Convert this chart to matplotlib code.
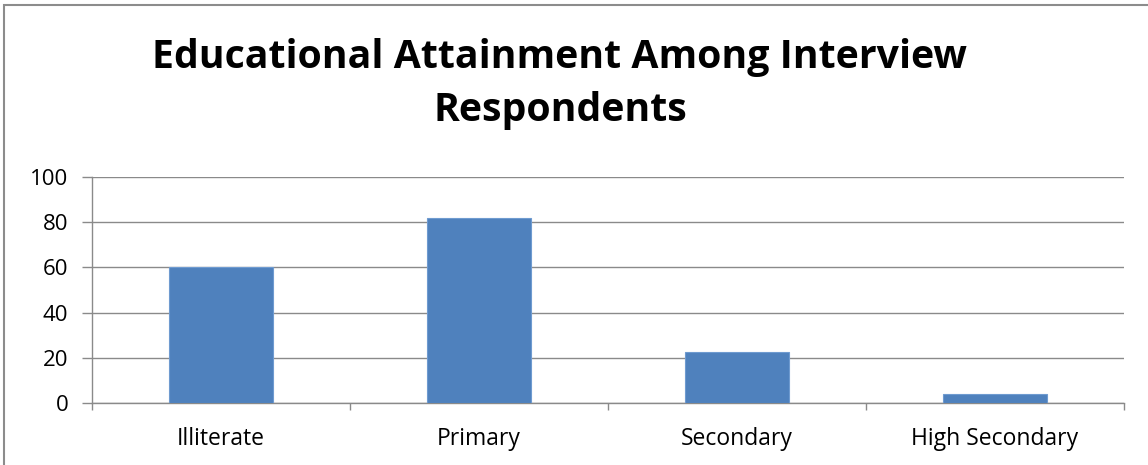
import matplotlib
matplotlib.use("Agg")
import matplotlib.pyplot as plt
from matplotlib.patches import Rectangle
from matplotlib.ticker import FixedLocator

categories = ["Illiterate", "Primary", "Secondary", "High Secondary"]
values = [60, 82, 22.5, 4]
yticks = [0, 20, 40, 60, 80, 100]
title = "Educational Attainment Among Interview\nRespondents"

W, H = 1148, 465
fig = plt.figure(figsize=(W / 100, H / 100), dpi=100)
fig.patch.set_facecolor("white")

# outer chart border (Excel-like)
fig.patches.append(Rectangle((4 / W, -0.1), 1.2, (H - 5) / H + 0.1, transform=fig.transFigure,
                             fill=False, edgecolor="#8c8c8c", linewidth=1.5))

ax = fig.add_axes([92 / W, 1 - 403 / H, (1124 - 92) / W, (403 - 177) / H])
x = list(range(len(categories)))
ax.bar(x, values, width=0.4, color="#4F81BD", edgecolor="#6f9bd0", linewidth=0.8, zorder=3)

ax.set_xlim(-0.5, len(categories) - 0.5)
ax.set_ylim(0, 100)
ax.set_yticks(yticks)
ax.yaxis.grid(True, color="#8a8a8a", linewidth=1.0, zorder=0)
ax.set_axisbelow(True)

ax.set_xticks(x)
ax.set_xticklabels(categories, fontsize=16.5, family="Open Sans")
ax.xaxis.set_minor_locator(FixedLocator([i - 0.5 for i in range(len(categories) + 1)]))
ax.tick_params(axis="x", which="major", length=0, pad=17)
ax.tick_params(axis="x", which="minor", length=5, color="#8a8a8a", width=1.0)
ax.tick_params(axis="y", length=7, color="#8a8a8a", width=1.0, labelsize=16, pad=10)
for lab in ax.get_yticklabels():
    lab.set_family("Open Sans")

for s in ["top", "right"]:
    ax.spines[s].set_visible(False)
for s in ["left", "bottom"]:
    ax.spines[s].set_color("#8a8a8a")
    ax.spines[s].set_linewidth(1.0)

fig.text(560 / W, 1 - 84 / H, title, ha="center", va="center", fontsize=28.3,
         fontweight="bold", family="Open Sans", linespacing=1.45)

fig.savefig("out.png", dpi=100)
